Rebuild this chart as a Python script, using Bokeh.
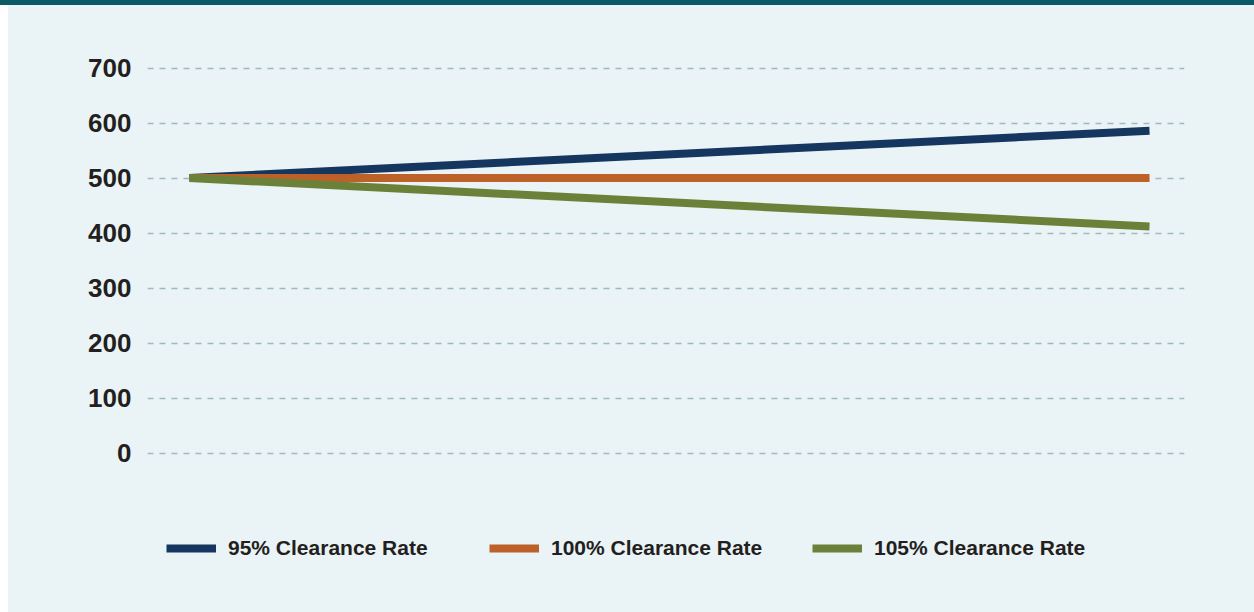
from bokeh.plotting import figure
from bokeh.models import Range1d, FixedTicker, Legend, LegendItem, Div, Spacer
from bokeh.layouts import column, row
from bokeh.embed import file_html
from bokeh.resources import INLINE

# ---- data ----
period = [0, 1]
rate_95 = [500, 586]
rate_100 = [500, 500]
rate_105 = [500, 412]
series_names = ["95% Clearance Rate", "100% Clearance Rate", "105% Clearance Rate"]
y_ticks = [0, 100, 200, 300, 400, 500, 600, 700]

BG = "#EAF3F6"
TXT = "#231F20"
colors = ["#15365E", "#BE6129", "#6B8139"]

p = figure(width=1246, height=607, output_backend="svg", toolbar_location=None,
           x_range=Range1d(-0.04375, 1.03646), y_range=Range1d(-268, 710),
           min_border_left=139, min_border_right=70, min_border_top=57, min_border_bottom=12,
           background_fill_color=BG, background_fill_alpha=0,
           border_fill_color=BG, border_fill_alpha=0, outline_line_color=None,
           styles={"background-color": BG})
p.margin = 0

p.xaxis.visible = False
p.xgrid.visible = False
p.yaxis.ticker = FixedTicker(ticks=y_ticks)
p.yaxis.axis_line_color = None
p.yaxis.major_tick_line_color = None
p.yaxis.minor_tick_line_color = None
p.yaxis.major_tick_out = 0
p.yaxis.major_label_standoff = 16
p.yaxis.major_label_text_font = "Liberation Sans"
p.yaxis.major_label_text_font_style = "bold"
p.yaxis.major_label_text_font_size = "26px"
p.yaxis.major_label_text_color = TXT
p.ygrid.grid_line_color = "#9DBABF"
p.ygrid.grid_line_width = 1.5
p.ygrid.grid_line_dash = "6 6"

renderers = []
for vals, c in zip([rate_95, rate_100, rate_105], colors):
    r = p.line(period, vals, line_color=c, line_width=8, line_cap="butt")
    renderers.append(r)

legend = Legend(items=[LegendItem(label=n, renderers=[r]) for n, r in zip(series_names, renderers)],
                orientation="horizontal", location=(19, 40),
                glyph_width=50, glyph_height=24, label_height=24, label_width=250,
                label_standoff=12, spacing=11, padding=0, margin=0,
                background_fill_alpha=0, border_line_color=None,
                label_text_font="Liberation Sans", label_text_font_style="bold",
                label_text_font_size="21px", label_text_color=TXT)
p.add_layout(legend, "center")

top = Div(width=1254, height=5, styles={"background-color": "#0B5A66"}, margin=0)
left = Spacer(width=8, height=607, margin=0)
layout = column(top, row(left, p, margin=0), margin=0)

open("out.html", "w").write(file_html(layout, INLINE))
